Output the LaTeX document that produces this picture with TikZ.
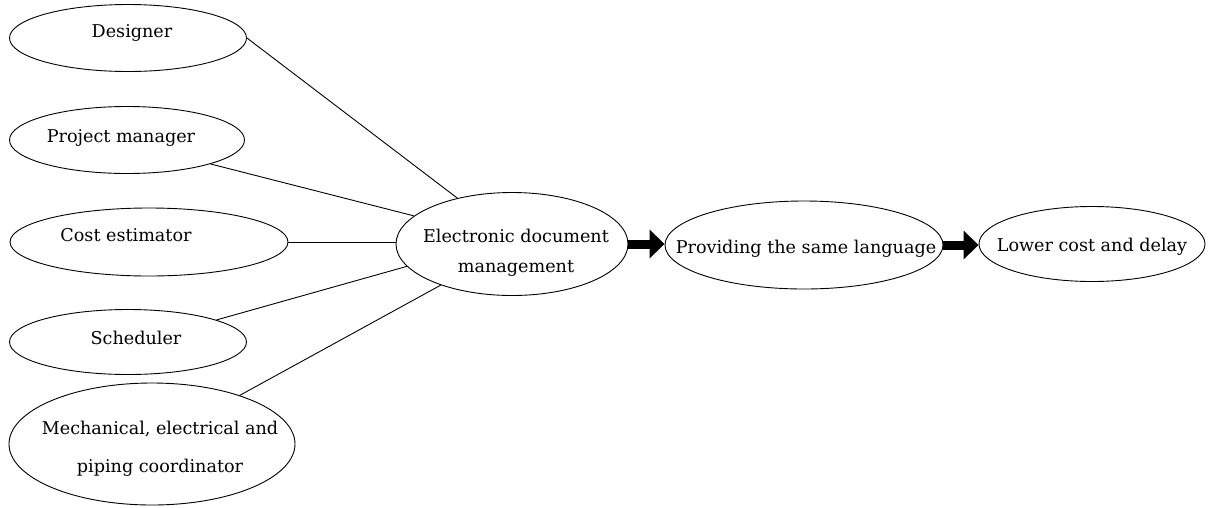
\documentclass[tikz,border=0pt]{standalone}
\usepackage{fontspec}
\setmainfont{DejaVu Serif}
\usetikzlibrary{shapes.geometric,arrows.meta}
\begin{document}
\begin{tikzpicture}[x=1pt,y=-1pt,
  ell/.style={draw,ellipse,line width=0.9pt,inner sep=0pt},
  txt/.style={font=\fontsize{17.6}{21}\selectfont,inner sep=0pt,anchor=base},
  link/.style={line width=0.9pt},
  bigarrow/.style={line width=9pt,-{Triangle[width=28pt,length=15pt]}}]
\useasboundingbox (0,0) rectangle (1209,507);
% ellipses
\node[ell,minimum width=237pt,minimum height=67pt] (designer) at (128,38) {};
\node[ell,minimum width=235pt,minimum height=67pt] (pm) at (127,140) {};
\node[ell,minimum width=278pt,minimum height=68pt] (cost) at (149,242) {};
\node[ell,minimum width=237pt,minimum height=65pt] (sched) at (128,342) {};
\node[ell,minimum width=286pt,minimum height=122pt] (mech) at (152,444) {};
\node[ell,minimum width=232pt,minimum height=103pt] (edm) at (512,244) {};
\node[ell,minimum width=278pt,minimum height=88pt] (prov) at (804,245) {};
\node[ell,minimum width=226pt,minimum height=75pt] (lower) at (1092,244) {};
% texts
\node[txt] (designer-t) at (132,37) {Designer};
\node[txt] (pm-t) at (121,142) {Project manager};
\node[txt] (cost-t) at (126,241) {Cost estimator};
\node[txt] (sched-t) at (136,344) {Scheduler};
\node[txt,anchor=center,align=center,font=\fontsize{17.6}{38}\selectfont] (mech-t) at (160,449) {Mechanical, electrical and\\piping coordinator};
\node[txt,anchor=center,align=center,font=\fontsize{17.6}{30}\selectfont] (edm-t) at (516,253) {Electronic document\\management};
\node[txt] (prov-t) at (806,253) {Providing the same language};
\node[txt] (lower-t) at (1092,251) {Lower cost and delay};
% connectors
\draw[link] (designer.0) -- (edm.140.5);
\draw[link] (pm.344) -- (edm.164);
\draw[link] (cost.0) -- (cost.0 -| edm.west);
\draw[link] (sched.14) -- (edm.192);
\draw[link] (mech.29) -- (edm.210);
\draw[bigarrow] (edm.east) -- (edm.east -| prov.west);
\draw[bigarrow] (prov.east) -- (prov.east -| lower.west);
\end{tikzpicture}
\end{document}
